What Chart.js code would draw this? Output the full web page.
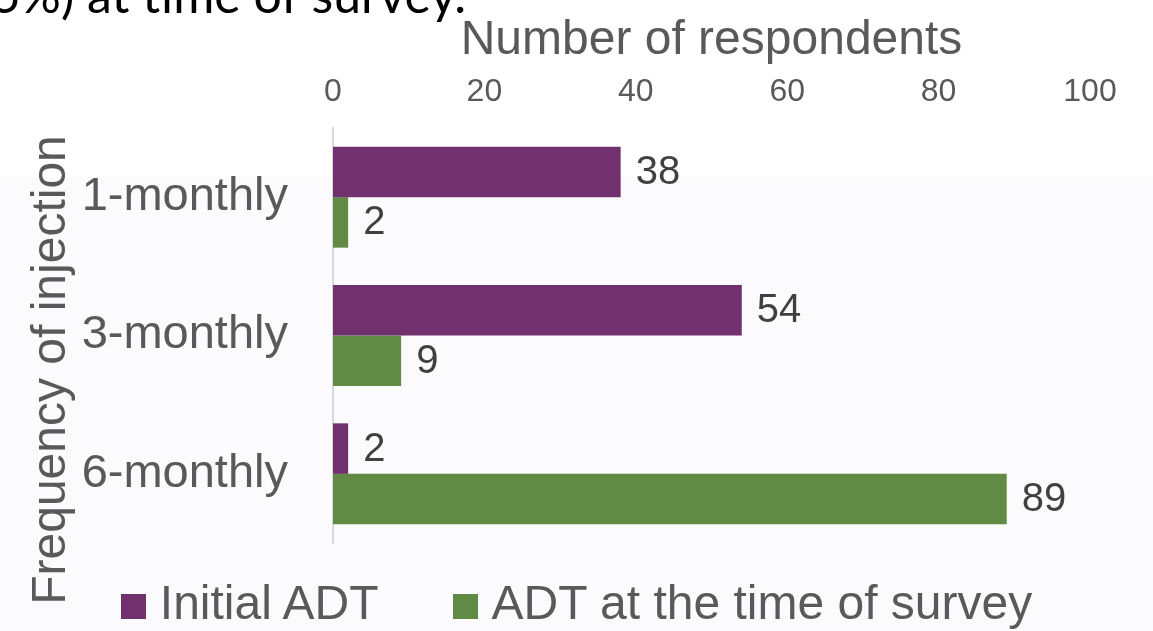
<!DOCTYPE html>
<html>
<head>
<meta charset="utf-8">
<script src="https://cdn.jsdelivr.net/npm/chart.js@4.4.1/dist/chart.umd.min.js"></script>
<style>
    html, body { margin: 0; padding: 0; }
    body {
        width: 1153px; height: 631px; overflow: hidden; position: relative;
        background: linear-gradient(to bottom, #ffffff 177px, #fbfbfd 177px);
        font-family: "Liberation Sans", Arial, sans-serif;
    }
    #wrap { position: absolute; left: 0; top: 0; width: 1153px; height: 631px; }
    #legend {
        position: absolute; left: 0; top: 579px; width: 1153px;
        text-align: center; font-size: 48px; line-height: 48px; color: #595959;
        white-space: nowrap;
    }
    #legend .item { display: inline-block; margin: 0 37px; }
    #legend .box { display: inline-block; width: 25px; height: 25px; margin-right: 14px; vertical-align: baseline; }
</style>
</head>
<body>
<div id="wrap"><canvas id="chart" width="1153" height="631"></canvas></div>
<div id="legend"></div>
<script>
// data
const categories = ['1-monthly', '3-monthly', '6-monthly'];
const seriesNames = ['Initial ADT', 'ADT at the time of survey'];
const initialADT = [38, 54, 2];
const surveyADT = [2, 9, 89];
const xTicks = [0, 20, 40, 60, 80, 100];

const colors = ['#71306e', '#618b45'];
const gray = '#595959';

// value labels at the end of each bar
const barLabels = {
    id: 'barLabels',
    afterDatasetsDraw(chart) {
        const ctx = chart.ctx;
        ctx.save();
        ctx.font = '40px "Liberation Sans", Arial, sans-serif';
        ctx.fillStyle = '#404040';
        ctx.textAlign = 'left';
        ctx.textBaseline = 'middle';
        chart.data.datasets.forEach((ds, i) => {
            chart.getDatasetMeta(i).data.forEach((bar, j) => {
                ctx.fillText(String(ds.data[j]), bar.x + 15, bar.y + 1);
            });
        });
        ctx.restore();
    }
};

// rotated y title and the clipped slide text above the chart
const extraText = {
    id: 'extraText',
    afterDraw(chart) {
        const ctx = chart.ctx;
        ctx.save();
        ctx.fillStyle = gray;
        ctx.font = '48px "Liberation Sans", Arial, sans-serif';
        ctx.translate(65, 370);
        ctx.rotate(-Math.PI / 2);
        ctx.textAlign = 'center';
        ctx.textBaseline = 'alphabetic';
        ctx.fillText('Frequency of injection', 0, 0);
        ctx.restore();

        ctx.save();
        ctx.fillStyle = '#000000';
        ctx.font = '50px Lato, "Open Sans", sans-serif';
        ctx.textAlign = 'right';
        ctx.textBaseline = 'alphabetic';
        ctx.fillText('35%) at time of survey.', 466, 13);
        ctx.restore();
    }
};

new Chart(document.getElementById('chart'), {
    type: 'bar',
    data: {
        labels: categories,
        datasets: [
            { label: seriesNames[0], data: initialADT, backgroundColor: colors[0] },
            { label: seriesNames[1], data: surveyADT, backgroundColor: colors[1] }
        ]
    },
    options: {
        indexAxis: 'y',
        responsive: false,
        animation: false,
        datasets: { bar: { barPercentage: 1, categoryPercentage: 0.73 } },
        layout: { padding: { left: 0, right: 63, top: 0, bottom: 88 } },
        plugins: {
            legend: { display: false },
            tooltip: { enabled: false }
        },
        scales: {
            x: {
                position: 'top',
                min: 0,
                max: 100,
                afterBuildTicks: (scale) => { scale.ticks = xTicks.map(v => ({ value: v })); },
                afterFit: (scale) => { scale.height = 128; },
                grid: { display: false, drawTicks: false },
                border: { display: false },
                ticks: { color: gray, font: { size: 32, family: '"Liberation Sans", Arial' }, padding: 17 },
                title: {
                    display: true,
                    text: 'Number of respondents',
                    color: gray,
                    font: { size: 48, family: '"Liberation Sans", Arial' },
                    padding: { top: 12, bottom: 0 }
                }
            },
            y: {
                afterFit: (scale) => { scale.width = 333; },
                grid: { display: false, drawTicks: false },
                border: { display: true, color: '#d9d9d9', width: 2 },
                ticks: { color: gray, font: { size: 47, family: '"Liberation Sans", Arial' }, padding: 45 }
            }
        }
    },
    plugins: [barLabels, extraText]
});

// legend as html
const legend = document.getElementById('legend');
seriesNames.forEach((name, i) => {
    const item = document.createElement('span');
    item.className = 'item';
    const box = document.createElement('span');
    box.className = 'box';
    box.style.background = colors[i];
    item.appendChild(box);
    item.appendChild(document.createTextNode(name));
    legend.appendChild(item);
});
</script>
</body>
</html>
